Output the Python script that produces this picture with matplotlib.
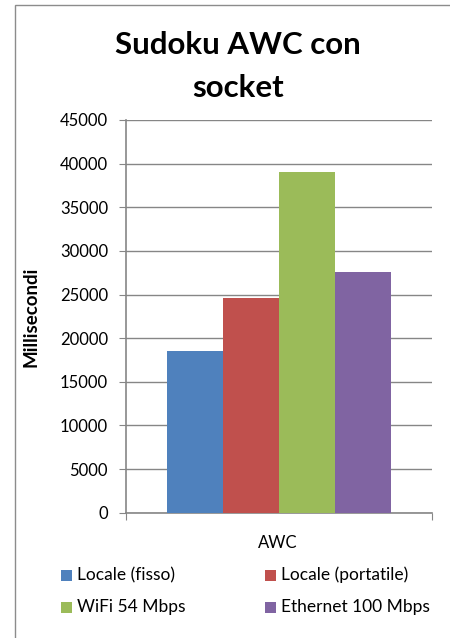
import matplotlib
matplotlib.use("Agg")
import matplotlib.pyplot as plt
from matplotlib.patches import Rectangle
import numpy as np

plt.rcParams['font.family'] = ['Lato', 'DejaVu Sans']

series = ["Locale (fisso)", "Locale (portatile)", "WiFi 54 Mbps", "Ethernet 100 Mbps"]
values = [18500, 24650, 39050, 27600]
colors = ["#4F81BD", "#C0504D", "#9BBB59", "#8064A2"]
category = "AWC"
yticks = list(range(0, 45001, 5000))

fig = plt.figure(figsize=(4.5, 6.38), dpi=100)
fig.patch.set_facecolor("white")

# chart frame
fig.patches.append(Rectangle((15 / 450, -0.05), 1.0, 1 - 5 / 638 + 0.05,
                             transform=fig.transFigure, fill=False,
                             edgecolor="#8C8C8C", linewidth=1.0))

ax = fig.add_axes([126 / 450, 1 - 512.7 / 638, 306 / 450, (512.7 - 120) / 638])
grid_c = "#868686"
bw = 0.183
for i, (s, v, c) in enumerate(zip(series, values, colors)):
    ax.bar(0.5 + (i - 1.5) * bw, v, width=bw, color=c, label=s, zorder=3)

ax.set_xlim(0, 1)
ax.set_ylim(0, 45000)
ax.set_yticks(yticks)
ax.set_yticklabels([str(t) for t in yticks], fontsize=12)
ax.yaxis.grid(True, color=grid_c, linewidth=1.0, zorder=0)
ax.set_xticks([0, 1])
ax.set_xticklabels([])
ax.tick_params(axis='y', length=5, color=grid_c, pad=8)
ax.tick_params(axis='x', length=5, color=grid_c)
for side in ("top", "right"):
    ax.spines[side].set_visible(False)
ax.spines["left"].set_color(grid_c)
ax.spines["bottom"].set_color(grid_c)
ax.spines["left"].set_linewidth(1.2)
ax.spines["bottom"].set_linewidth(1.2)

ax.set_ylabel("Millisecondi", fontsize=13.5, fontweight="bold")
ax.yaxis.set_label_coords(-(126 - 39) / 306, 0.5)
fig.text(278 / 450, 1 - 543 / 638, category, fontsize=12, ha="center", va="center")

fig.text(238 / 450, 1 - 45 / 638, "Sudoku AWC con", fontsize=22.5, fontweight="bold",
         ha="center", va="center")
fig.text(238 / 450, 1 - 88 / 638, "socket", fontsize=22.5, fontweight="bold",
         ha="center", va="center")

# legend, two columns
pos = [(61, 575), (265, 575), (61, 607), (265, 607)]
for (px, py), s, c in zip(pos, series, colors):
    fig.patches.append(Rectangle((px / 450, 1 - (py + 5.5) / 638), 11 / 450, 11 / 638,
                                 transform=fig.transFigure, facecolor=c, edgecolor="none"))
    fig.text((px + 16) / 450, 1 - py / 638, s, fontsize=12.5, ha="left", va="center")

fig.savefig("out.png", dpi=100, facecolor="white")
